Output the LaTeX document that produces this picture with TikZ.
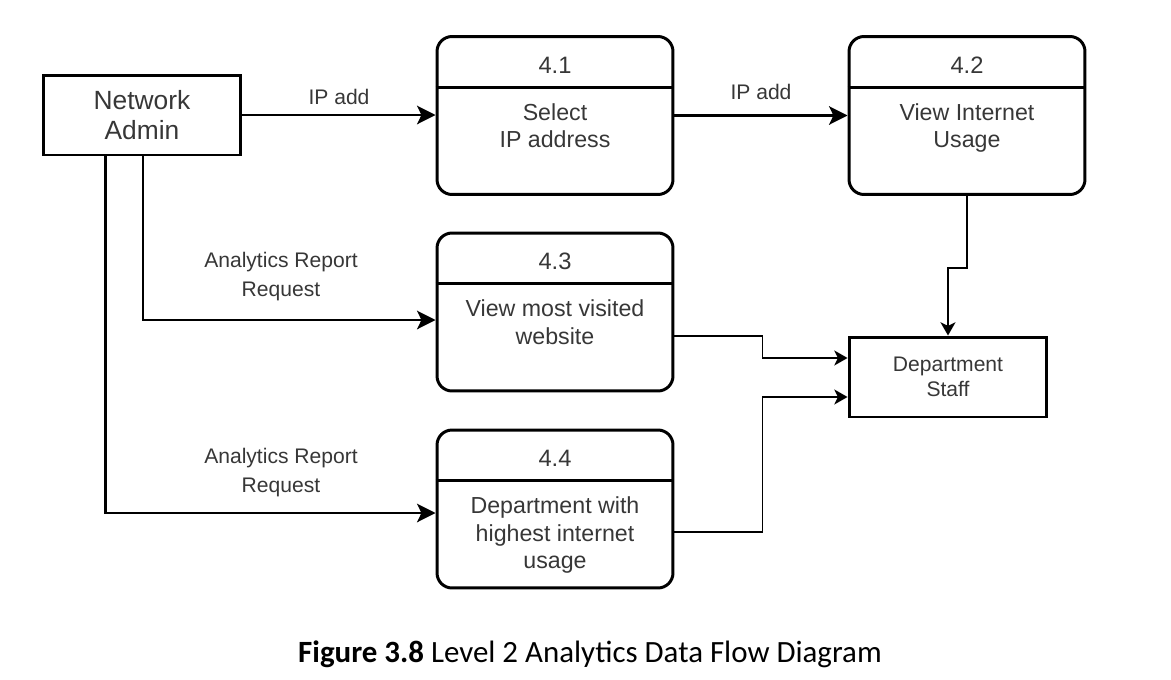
\documentclass[tikz,border=0pt]{standalone}
\usepackage{fontspec}
\setmainfont{Liberation Sans}
\newfontfamily\capfont{Carlito}
\usepackage{xcolor}
\usepackage{tikz}
\usetikzlibrary{positioning, arrows.meta, calc}
\definecolor{TextGray}{RGB}{55,55,55}
\tikzset{
  extbox/.style={draw=black, line width=1.7pt, minimum width=3.96cm, minimum height=1.6cm,
    inner sep=0pt, align=center, text=TextGray},
  procbox/.style={draw=black, line width=1.7pt, rounded corners=0.3cm, minimum width=4.72cm,
    minimum height=3.16cm, inner sep=0pt},
  numtxt/.style={font=\fontsize{13.5}{15.5}\selectfont, text=TextGray, inner sep=0pt},
  bodytxt/.style={font=\fontsize{13.2}{15.6}\selectfont, text=TextGray, align=center,
    inner sep=0pt, anchor=north},
  arr/.style={-{Stealth[length=10.5pt, width=10.5pt, inset=2.5pt]}, line width=1.7pt},
  thinarr/.style={-{Stealth[length=7.5pt, width=8.5pt, inset=2pt]}, line width=1.1pt},
  smalltxt/.style={font=\fontsize{12}{16.5}\selectfont, text=TextGray, align=center, inner sep=0pt},
}

\begin{document}
\begin{tikzpicture}[x=0.02cm, y=-0.02cm]
  \useasboundingbox (0,0) rectangle (1171,680);
  % external entities
  \node[extbox, font=\fontsize{15}{17}\selectfont] (admin) at (142,115) {Network\\Admin};
  \node[extbox, font=\fontsize{12}{14}\selectfont] (staff) at (948,377) {Department\\Staff};
  % processes
  \foreach \nm/\x/\y/\num/\txt in {p41/555/115.5/4.1/{Select\\IP address},
      p42/967/115.5/4.2/{View Internet\\Usage},
      p43/555/312/4.3/{View most visited\\website},
      p44/555/509/4.4/{Department with\\highest internet\\usage}}{
    \node[procbox] (\nm) at (\x,\y) {};
    \draw[line width=1.7pt] ([yshift=-1.04cm]\nm.north west) -- ([yshift=-1.04cm]\nm.north east);
    \node[numtxt] (\nm-n) at ([yshift=-0.6cm]\nm.north) {\num};
    \node[bodytxt] (\nm-t) at ([yshift=-1.36cm]\nm.north) {\txt};
  }
  % flows
  \draw[arr] (admin.east) -- (admin.east -| p41.west) node[midway, above=0.18cm, smalltxt] {IP add};
  \draw[arr] (p41.east) -- (p41.east -| p42.west) node[midway, above=0.28cm, smalltxt] {IP add};
  \draw[arr] ([xshift=0.02cm]admin.south) |- ([yshift=-0.16cm]p43.west);
  \draw[arr] ([xshift=-0.74cm]admin.south) |- ([yshift=-0.08cm]p44.west);
  \node[smalltxt] (req1) at (281,277) {Analytics Report\\Request};
  \node[smalltxt] (req2) at (281,473) {Analytics Report\\Request};
  \draw[thinarr] (p42.south) -- ++(0,72) -| (staff.north);
  \draw[thinarr] ([yshift=-0.48cm]p43.east) -- ++(88,0) |- ([yshift=0.38cm]staff.west);
  \draw[thinarr] ([yshift=-0.46cm]p44.east) -- ++(88,0) |- ([yshift=-0.4cm]staff.west);
  % caption
  \node[font=\capfont\fontsize{17.6}{20}\selectfont] (cap) at (590,654) {\textbf{Figure 3.8} Level 2 Analytics Data Flow Diagram};
\end{tikzpicture}
\end{document}
